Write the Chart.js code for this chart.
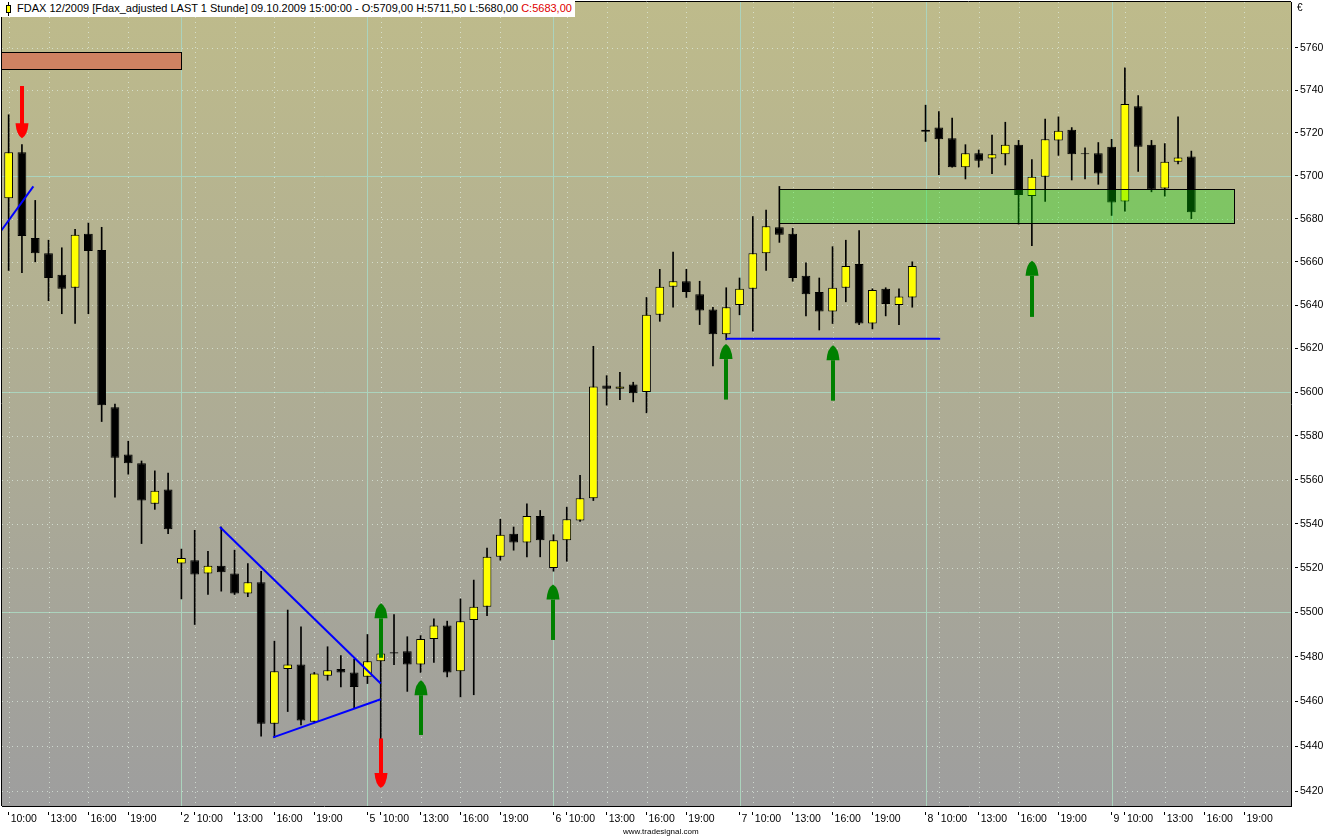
<!DOCTYPE html>
<html lang="de">
<head>
  <meta charset="UTF-8" />
  <title>FDAX 12/2009 - 1 Stunde</title>
  <script src="https://cdn.jsdelivr.net/npm/chart.js"></script>
  <style>
    html, body { margin: 0; padding: 0; background: #fff; }
    #wrap { position: relative; width: 1334px; height: 839px; overflow: hidden; }
    #chart { position: absolute; left: 0; top: 0; }
    .caption {
      position: absolute; left: 0; top: 0; height: 17px;
      padding: 0 3px 0 6px; background: #fff; color: #000;
      font: 11px 'Liberation Sans', Arial, sans-serif; line-height: 17px;
      white-space: nowrap;
    }
    .caption .last { color: #e00000; }
    .icon {
      display: inline-block; position: relative; width: 3px; height: 6px;
      background: #ff0; border: 1px solid #000; margin-right: 6px; vertical-align: -1px;
    }
    .icon:before, .icon:after {
      content: ''; position: absolute; left: 1px; width: 1px; height: 3px; background: #000;
    }
    .icon:before { top: -4px; }
    .icon:after { bottom: -4px; }
    .euro { position: absolute; left: 1297px; top: 2px; font: 10px 'Liberation Sans', Arial, sans-serif; }
    .footer { position: absolute; left: 623px; top: 827px; font: 8px 'Liberation Sans', Arial, sans-serif; color: #000; }
  </style>
</head>
<body>
<div id="wrap">
  <canvas id="chart" width="1334" height="839"></canvas>
  <div class="caption"><span class="icon"></span>FDAX 12/2009 [Fdax_adjusted LAST 1 Stunde] 09.10.2009 15:00:00 - O:5709,00 H:5711,50 L:5680,00 <span class="last">C:5683,00</span></div>
  <div class="euro">€</div>
  <div class="footer">www.tradesignal.com</div>
</div>

<script>
  // hourly bars, 01.10.2009 10:00 .. 09.10.2009 15:00
  const open  = [5689.5,5711,5671,5664,5654,5648,5673,5665.5,5593,5571.5,5567.5,5549,5555.5,
                 5522,5523.5,5517.5,5521,5517.5,5508.5,5513.5,5450,5474.5,5476.5,5451,5471.5,5474.5,5473,
                 5471,5478,5482,5482.5,5476.5,5488,5494,5473.5,5496.5,5502.5,5525,5535.5,5531.5,5543.5,
                 5520,5532.5,5541.5,5551.5,5603,5601.5,5603.5,5600,5635.5,5648.5,5651,5645,5638,5626.5,
                 5640,5647.5,5664,5676,5673,5653.5,5646,5637,5648,5659,5631.5,5647.5,5640,5643.5,
                 5720.5,5722.5,5717.5,5704,5710.5,5708,5710,5714.5,5690.5,5699.5,5716.5,5721.5,5710.5,5710.5,
                 5713.5,5688,5732.5,5714.5,5694,5706.5,5709];
  const high  = [5728.5,5714.5,5688.5,5670,5666.5,5675,5678,5676,5594.5,5577.5,5568.5,5564,5563,
                 5528.5,5537,5527.5,5538.5,5528,5522,5518.5,5487,5501,5493.5,5473,5484.5,5480.5,5479,
                 5490,5487.5,5499,5489,5489.5,5497,5496,5506,5514.5,5529,5542,5538.5,5549,5546,
                 5535,5547.5,5562,5621,5607.5,5609,5604.5,5643.5,5656.5,5664.5,5656.5,5651,5639,5648,
                 5652.5,5681,5684,5695,5675.5,5659.5,5652.5,5667,5670,5674.5,5647.5,5648,5647.5,5660,
                 5733,5730,5727,5714.5,5712,5719,5725,5716.5,5707.5,5726.5,5727.5,5722.5,5713,5715.5,
                 5717,5750.5,5737.5,5716.5,5715,5727.5,5711.5];
  const low   = [5656,5655,5660,5642,5636,5631.5,5636,5586.5,5552,5562.5,5531,5546.5,5535.5,
                 5506,5494.5,5508,5509.5,5508,5507,5444.5,5444,5455.5,5449.5,5451,5469.5,5466.5,5457,
                 5468,5441,5476.5,5464.5,5473,5477.5,5471,5462,5463,5498.5,5523.5,5528,5525,5525,
                 5518.5,5523,5541,5550.5,5594,5596.5,5595.5,5590.5,5632.5,5639,5643.5,5631,5612,5624,
                 5635.5,5628,5656,5669,5651,5635,5628.5,5631.5,5641.5,5631,5629,5635,5631,5639,
                 5716,5700.5,5704,5698.5,5704,5701,5705,5677.5,5667.5,5688,5709.5,5698,5698.5,5696,
                 5681.5,5683.5,5702,5692.5,5690.5,5705.5,5680];
  const close = [5711,5672,5664,5652.5,5647.5,5672.5,5665,5594,5570,5567.5,5550.5,5555,5537.5,
                 5524.5,5517,5521,5518,5508.5,5513.5,5450,5473.5,5476.5,5451.5,5472.5,5474,5473,5466.5,
                 5478,5481.5,5481.5,5476.5,5488,5494,5473,5496,5502.5,5525,5535,5531.5,5543.5,5532.5,
                 5532.5,5542,5551.5,5602.5,5601.5,5602.5,5599.5,5635.5,5648.5,5651,5646,5637.5,5626.5,5639,
                 5647.5,5664,5676.5,5672.5,5652.5,5645,5637,5648,5658,5631.5,5647,5640.5,5644,5658,
                 5721.5,5717,5704,5710.5,5707,5710,5714.5,5691,5699.5,5717,5721,5710,5710,5701,
                 5687.5,5733.5,5713.5,5693.5,5706.5,5708.5,5683];

  // time axis: bar index of each labelled tick, and its text
  const xTickPos  = [0, 3, 6, 9, 13, 14, 17, 20, 23, 27, 28, 31, 34, 37, 41, 42, 45, 48, 51,
                     55, 56, 59, 62, 65, 69, 70, 73, 76, 79, 83, 84, 87, 90, 93];
  const xTickText = ['10:00','13:00','16:00','19:00','2','10:00','13:00','16:00','19:00',
                     '5','10:00','13:00','16:00','19:00','6','10:00','13:00','16:00','19:00',
                     '7','10:00','13:00','16:00','19:00','8','10:00','13:00','16:00','19:00',
                     '9','10:00','13:00','16:00','19:00'];
  const dayStart  = [13, 27, 41, 55, 69, 83];
  const yTicks    = [5420,5440,5460,5480,5500,5520,5540,5560,5580,5600,5620,5640,5660,5680,5700,5720,5740,5760];
  const yMajor    = [5500, 5600, 5700];

  // drawings (bar index / price)
  const zoneFrom  = [-0.6, 58];
  const zoneTo    = [13, 92.2];
  const zoneLow   = [5750, 5678];
  const zoneHigh  = [5758, 5694];
  const trendX0   = [-0.55, 15.9, 19.9, 54];
  const trendP0   = [5674.5, 5538.5, 5444, 5624.5];
  const trendX1   = [1.86, 28, 28, 70.1];
  const trendP1   = [5695, 5468, 5461, 5624.5];
  const arrowX    = [1, 28, 31, 41, 54, 62, 77, 28];
  const arrowFrom = [5742, 5480, 5445.5, 5488, 5597, 5596.5, 5635, 5443.5];
  const arrowTo   = [5717.5, 5504, 5469.5, 5512.5, 5622, 5621.5, 5660.5, 5421.5];

  const zoneFill = ['#cf8262', 'rgba(0,240,0,0.30)'];
  const labelFont = { family: "'Liberation Sans', Arial, sans-serif", size: 10.5 };

  const backdrop = {
    id: 'backdrop',
    beforeDraw(chart) {
      const { ctx, chartArea: a } = chart;
      const g = ctx.createLinearGradient(0, a.top, 0, a.bottom);
      g.addColorStop(0, '#bebb8b');
      g.addColorStop(1, '#9e9e9e');
      ctx.save();
      ctx.fillStyle = g;
      ctx.fillRect(a.left, a.top, a.right - a.left, a.bottom - a.top);
      ctx.restore();
    },
    beforeDatasetsDraw(chart) {
      const { ctx, chartArea: a, scales: { x, y } } = chart;
      ctx.save();
      ctx.lineWidth = 1;
      yTicks.forEach(v => {
        const py = Math.round(y.getPixelForValue(v)) + 0.5;
        const major = yMajor.includes(v);
        ctx.strokeStyle = major ? '#abd3bd' : 'rgba(225,240,228,0.7)';
        ctx.setLineDash(major ? [] : [1, 4]);
        ctx.beginPath(); ctx.moveTo(a.left, py); ctx.lineTo(a.right, py); ctx.stroke();
      });
      xTickPos.forEach(v => {
        const px = Math.round(x.getPixelForValue(v)) + 0.5;
        const major = dayStart.includes(v);
        ctx.strokeStyle = major ? '#abd3bd' : 'rgba(225,240,228,0.7)';
        ctx.setLineDash(major ? [] : [1, 4]);
        ctx.beginPath(); ctx.moveTo(px, a.top); ctx.lineTo(px, a.bottom); ctx.stroke();
      });
      // left and top frame
      ctx.setLineDash([]);
      ctx.strokeStyle = '#000';
      ctx.beginPath();
      ctx.moveTo(a.left - 0.5, a.bottom); ctx.lineTo(a.left - 0.5, a.top - 0.5); ctx.lineTo(a.right, a.top - 0.5);
      ctx.stroke();
      ctx.restore();
    }
  };

  function drawArrow(ctx, px, yTail, yTip, color) {
    const dir = yTip > yTail ? 1 : -1;
    const neck = yTip - dir * 15;
    ctx.fillStyle = color;
    ctx.fillRect(px - 2, Math.min(yTail, neck), 4, Math.abs(neck - yTail) + 1);
    ctx.beginPath();
    ctx.moveTo(px - 6.5, neck);
    ctx.quadraticCurveTo(px - 5.5, yTip - dir * 3, px, yTip);
    ctx.quadraticCurveTo(px + 5.5, yTip - dir * 3, px + 6.5, neck);
    ctx.closePath();
    ctx.fill();
  }

  const drawings = {
    id: 'drawings',
    afterDatasetsDraw(chart) {
      const { ctx, chartArea: a, scales: { x, y } } = chart;
      ctx.save();
      ctx.beginPath(); ctx.rect(a.left, a.top, a.right - a.left, a.bottom - a.top); ctx.clip();

      zoneFrom.forEach((f, k) => {
        const x0 = Math.round(x.getPixelForValue(f)) + 0.5;
        const x1 = Math.round(x.getPixelForValue(zoneTo[k])) + 0.5;
        const y0 = Math.round(y.getPixelForValue(zoneHigh[k])) + 0.5;
        const y1 = Math.round(y.getPixelForValue(zoneLow[k])) + 0.5;
        ctx.fillStyle = zoneFill[k];
        ctx.fillRect(x0, y0, x1 - x0, y1 - y0);
        ctx.strokeStyle = '#000'; ctx.lineWidth = 1;
        ctx.strokeRect(x0, y0, x1 - x0, y1 - y0);
      });

      ctx.strokeStyle = '#0000ff'; ctx.lineWidth = 2;
      trendX0.forEach((t, k) => {
        ctx.beginPath();
        ctx.moveTo(x.getPixelForValue(t), y.getPixelForValue(trendP0[k]));
        ctx.lineTo(x.getPixelForValue(trendX1[k]), y.getPixelForValue(trendP1[k]));
        ctx.stroke();
      });

      arrowX.forEach((ax, k) => {
        const up = arrowTo[k] > arrowFrom[k];
        drawArrow(ctx, Math.round(x.getPixelForValue(ax)), y.getPixelForValue(arrowFrom[k]),
          y.getPixelForValue(arrowTo[k]), up ? '#008000' : '#ff0000');
      });
      ctx.restore();
    }
  };

  new Chart(document.getElementById('chart'), {
    type: 'bar',
    data: {
      datasets: [
        {
          label: 'Kerze',
          data: open.map((o, i) => ({ x: i, y: [o, close[i]] })),
          backgroundColor: c => close[c.dataIndex] >= open[c.dataIndex] ? '#ffff00' : '#000000',
          borderColor: '#000',
          borderWidth: 1,
          borderSkipped: false,
          grouped: false,
          categoryPercentage: 1,
          barPercentage: 0.66,
          order: 0
        },
        {
          label: 'Docht',
          data: high.map((h, i) => ({ x: i, y: [low[i], h] })),
          backgroundColor: '#000',
          barThickness: 1,
          grouped: false,
          order: 1
        }
      ]
    },
    options: {
      responsive: false,
      animation: false,
      devicePixelRatio: 1,
      layout: { padding: { left: 2, top: 2, right: 0, bottom: 0 } },
      plugins: { legend: { display: false }, tooltip: { enabled: false } },
      scales: {
        x: {
          type: 'linear', min: -0.5, max: 96.5, offset: false,
          grid: { offset: false, drawOnChartArea: false, tickLength: 9, tickColor: '#000', tickBorderDash: [0, 5, 4, 40] },
          border: { color: '#000', width: 1 },
          afterBuildTicks: s => { s.ticks = xTickPos.map(v => ({ value: v })); },
          afterFit: s => { s.height = 33; s.paddingLeft = 0; s.paddingRight = 0; },
          ticks: {
            autoSkip: false, maxRotation: 0, align: 'start', labelOffset: 2, padding: -2,
            color: '#000', font: labelFont,
            callback: v => { const k = xTickPos.indexOf(v); return k < 0 ? '' : xTickText[k]; }
          }
        },
        y: {
          type: 'logarithmic', position: 'right', min: 5413.5, max: 5781.6,
          grid: { drawOnChartArea: false, tickLength: 7, tickColor: '#000', tickBorderDash: [0, 3, 4, 40] },
          border: { color: '#000', width: 1 },
          afterBuildTicks: s => { s.ticks = yTicks.map(v => ({ value: v })); },
          afterFit: s => { s.width = 43; s.paddingTop = 0; s.paddingBottom = 0; },
          ticks: { padding: 2, color: '#000', font: labelFont, callback: v => String(v) }
        }
      }
    },
    plugins: [backdrop, drawings]
  });
</script>
</body>
</html>
